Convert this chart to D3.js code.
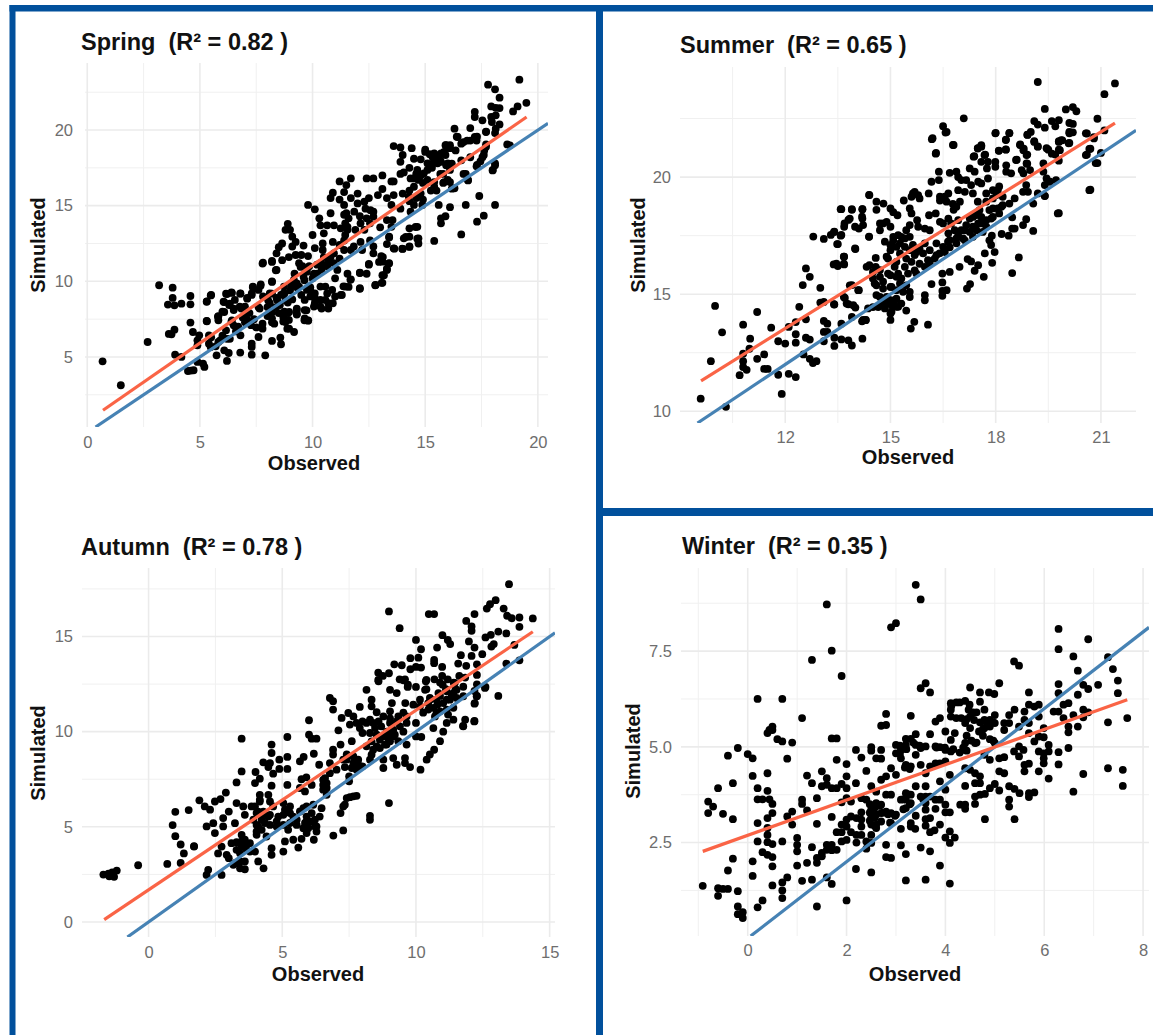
<!DOCTYPE html>
<html>
<head>
<meta charset="utf-8">
<style>
body { margin: 0; background: #fff; }
text { font-family: "Liberation Sans", Arial, sans-serif; }
</style>
<script src="https://cdn.jsdelivr.net/npm/d3@7"></script>
</head>
<body>
<script>
let width = 1153;
let height = 1035;

let springTitle = "Spring  (R² = 0.82 )";
let summerTitle = "Summer  (R² = 0.65 )";
let autumnTitle = "Autumn  (R² = 0.78 )";
let winterTitle = "Winter  (R² = 0.35 )";

let springXTicks = [0, 5, 10, 15, 20];
let springXMinor = [2.5, 7.5, 12.5, 17.5];
let springYTicks = [5, 10, 15, 20];
let springYMinor = [2.5, 7.5, 12.5, 17.5, 22.5];
let summerXTicks = [12, 15, 18, 21];
let summerXMinor = [10.5, 13.5, 16.5, 19.5];
let summerYTicks = [10, 15, 20];
let summerYMinor = [12.5, 17.5, 22.5];
let autumnXTicks = [0, 5, 10, 15];
let autumnXMinor = [-2.5, 2.5, 7.5, 12.5];
let autumnYTicks = [0, 5, 10, 15];
let autumnYMinor = [2.5, 7.5, 12.5, 17.5];
let winterXTicks = [0, 2, 4, 6, 8];
let winterXMinor = [-1, 1, 3, 5, 7];
let winterYTicks = [2.5, 5, 7.5];
let winterYMinor = [1.25, 3.75, 6.25, 8.75];

// fitted lines, [observed, simulated] at both ends
let springFit = [[0.7, 1.48], [19.5, 20.86]];
let summerFit = [[9.6, 11.3], [21.4, 22.3]];
let autumnFit = [[-1.66, 0.12], [14.37, 15.25]];
let winterFit = [[-0.91, 2.27], [7.68, 6.23]];

let springPoints = [
[0.68,4.71],[1.49,3.13],[2.68,5.99],[3.19,9.74],[3.79,9.58],[3.79,8.9],[3.58,8.46],[3.87,8.41],[4.18,8.52],[4.58,9.03],[4.58,8.48],[3.74,6.5],[3.62,6.52],[3.87,6.8],[3.9,5.15],[4.18,5.0],[4.58,7.27],[4.69,6.65],[4.97,6.43],[4.89,6.1],[4.89,5.77],[5.31,7.36],[5.48,9.07],[5.31,8.68],[5.82,7.69],[5.82,7.42],[5.4,6.43],[4.47,4.07],[4.72,4.12],[4.89,4.67],[5.14,4.56],[5.2,4.34],[4.6,4.1],
[6.16,9.18],[6.42,9.23],[6.79,9.18],[7.35,9.6],[7.69,9.7],[6.08,8.63],[6.33,8.52],[6.5,8.2],[6.08,7.97],[6.84,8.2],[7.1,8.85],[7,7.75],[7,7.3],[7.27,7.1],[7.6,8.3],[6.42,7.42],[6.16,6.76],[6.5,7.09],[6.33,6.2],[5.9,6.1],[6.8,6.43],[7.78,7.2],[7.78,6.87],[7.6,6.32],[8.2,6.06],[8.57,6.28],[8.6,5.84],[7.3,5.88],[7.3,5.66],[6.79,5.29],[7.3,5.15],[7.9,5.11],[6.28,5.26],[6.2,4.74],[5.74,5.11],[6.08,5.44],[5.48,5.66],[5.4,5.88],[5.82,5.99],[8.2,7.3],[8.2,7.97],[8.37,8.3],[8.7,7.64],[8.8,7.31],[8.96,6.87],[9.18,6.65],[8.88,6.87],[8.96,7.97],[9.3,7.86],[9.3,8.2],[9.64,7.42],[9.73,8.08],[9.81,7.42],[8.03,8.74],[8.2,9.18],[8.2,9.96],[7.78,11.17],[8.2,11.28],[8.37,10.73],
[5.5,9.1],[5.3,8.65],[5.3,7.38],[5.8,7.66],[6.4,7.33],[6.4,9.27],[6.2,9.16],[6.05,8.65],[6.3,8.43],[6.5,8.1],[6,8],[7,8.33],[7.1,7.45],[7.65,8.2],[7.8,9],[8.1,8.55],[8.2,7.55],[8.3,7.2],[8.75,8],[8.9,7.9],[9.3,8.1],[9.3,7.8],[9.65,8.1],[9.65,7.55],[9.8,7.4],[8.95,7.45],[8.7,7.35],[8.55,8.43],[6.8,9.2],[7.1,8.9],[7.3,9.1],[7.35,9.65],[7.7,9.8],
[10.35,9.65],[10.1,9.2],[9.75,9.43],[9.65,8.77],[10.1,8.55],[10.4,8.2],[10.7,8.2],[10.9,8.55],[11,9],[10.65,9.2],[11.3,9.1],[10.35,8.77],[9.3,9.87],[9.05,9.65],[8.75,9.2],[8.2,10],[8.7,9.18],[9,9.4],[9.3,9.6],[8.8,8.74],[9.64,10.07],[10.07,10.5],[10.4,11.17],[9.2,10.5],[9.73,10.73],[9.47,10.95],[9.05,9.85],
[9.8,15.05],[10.1,14.76],[10.8,14.5],[10.3,14.16],[10.35,13.7],[10.65,13.7],[10.95,13.7],[11.25,13.5],[11.5,14.5],[11.6,14.16],[11.45,13.83],[12.1,14.3],[12.4,14.16],[12.7,14.6],[12.55,13.83],[13.3,14.05],[13.55,14.05],[13.5,13.6],[13,13.57],[12.3,13.4],[11.9,13.4],[11.55,13.4],[11.45,13.06],[10.5,13.17],[10,13.06],[8.9,13.8],[9,13.4],[8.8,13.4],[9.1,12.95],[9.25,12.6],[8.65,12.5],[8.5,12.25],[9.1,12.3],[9.6,12.36],[8.4,11.85],[8.65,11.4],[8.95,11.6],[9.25,11.74],[9.5,11.74],[9.8,11.67],[10.1,12.2],[10.45,12.5],[10.9,12.6],[11.2,12.4],[11.4,12.7],[11.7,12.07],[10.45,12.07],[10.8,11.6],[11.2,11.5],[7.8,11.23],[8.2,11.35],[8.4,10.75],[9.4,11.2],[9.55,11],[9.85,11],[10.2,11.1],[10.7,11.3],[9.75,10.64],[10.05,10.4],[10.4,10.75],[11.1,10.75],[11,10.2],[11.55,10.5],[11.7,10.13],[12.1,10.57],[12.4,10.5],[12.5,11.15],[12.7,11.85],[13.05,11.67],[13.1,11.3],[13.4,11.2],[13.3,10.75],[13.1,10.4],[13.1,9.9],[12.8,9.76],[12.1,9.54],[11.45,9.65],[11.25,9.1],[13.4,12.95],[13.3,12.46],[13.6,12.18],[14,12.14],[14.3,12.3],[14.7,12.5],[14.7,12.84],[14.3,12.95],[14.05,12.84],[14.3,13.5],[14.65,13.6],[12.7,12.3],[12.55,12.7],[12.2,12.07],
[13.1,17],[12.7,16.8],[12.4,16.8],[13.5,16.6],[13.6,16.6],[11.7,16.8],[11.2,16.6],[11.5,16.36],[10.9,15.86],[10.8,15.5],[11.4,15.9],[11.2,15.4],[11.4,15.05],[12,15.8],[11.7,15.5],[12,15.15],[12.3,15.26],[12.5,15.5],[13.1,16.1],[12.9,15.7],[13.6,15.7],[13.3,15.5],[13.5,15.05],
[13.6,18.94],[13.9,18.85],[14.4,18.8],[14,18.35],[13.9,17.9],[14.5,18.1],[14.8,18.06],[14.3,17.5],[15,18.7],[15.2,18.4],[15.4,18.1],[15.7,17.9],[15.9,19],[16.1,18.8],[16.4,19.56],[16.7,19.2],[17,19.3],[17.3,19.56],[17.7,19.9],[18.1,19.8],[17.7,18.9],[17.6,18.35],[17.3,17.7],[18,17.36],[18.1,17.8],[16.8,17.1],[16.9,16.7],[16.3,16.15],[16,16.7],[15.8,16.5],[15.3,17.5],[15.1,17.36],[14.8,17],[14.6,17.1],[14.35,16.8],[13.9,17.1],[14.05,17.2],[14.9,16.5],[14.5,16.25],[14.3,16],[14,15.8],[14.8,15.8],[14.6,15.5],[14.3,15.3],[13.9,14.8],[14.35,14.6],[14.9,15.4],[15.5,16],[15.4,16.25],[15.8,17.1],[16.1,17.36],
[15.6,15.05],[16.1,14.9],[16.8,15.05],[17.4,15.64],[18.1,15.05],[15.9,14.3],[15.7,14.16],[15.7,13.83],[17.3,13.94],[17.6,14.34],[15.4,12.67],[16.6,13.1],
[19.18,23.33],[17.79,23],[18.1,22.69],[18.3,22.14],[17.93,21.56],[18.13,21.47],[18.3,21.45],[19.1,21.56],[19.49,21.8],[18.9,21.23],[17.2,21.2],[17.2,20.86],[17.93,20.86],[18.13,20.97],[17.96,20.53],[18.3,20.37],[17.54,20.64],[17,20.13],[16.3,20.09],[17.7,19.87],[18.13,20.09],[16.44,19.54],[16.6,19.1],[16.86,19.3],[17.2,19.54],[17.28,19.3],[18.64,19.05],[18.76,18.99],[17.7,19.05],[17.62,18.65],[17.54,18.2],[17.45,17.93],[17.28,17.6],[18.1,17.67],[17.99,17.33],[16.1,19],[15.93,19],[16.35,18.65],[15.84,18.55],[15.6,18.33],[15.33,18.2],[15,18.55],[15.33,17.78],[15.67,18],[15.93,17.67],[16.18,17.78],[16.6,18],[17,18.2],[16.7,17.1],[16.9,16.67],[15.67,17.1],[15.84,16.56],[16.1,16.56],[16.18,16.12],[15.4,16.56],[15.25,16],[13.98,12.16],[14.3,12.27],[14.65,12.82],[14.57,13.59],[14.14,12.93],[13.63,12.16],[13.4,12.9],[12.78,9.74],[13.07,9.9],[13.17,10.4],[13.3,10.84],[13.38,11.17],[12.95,11.28],[13.12,11.6],[12.5,11.1],[12.1,9.5],[12.1,10.55],[11.68,10.1],[11.37,9.67],[11.6,9.63],
[15.4,18.45],[15.7,18.45],[15.55,17.8],[16,17.8],[15.9,18.35],[15.1,17.8],[14.65,17.36],[14.94,17.14],[15.1,16.7],[14.7,16.7],[14.5,16.8],[14.27,15.6],[14.5,15.05],[14.87,15.05],[11.4,14.4],[11.55,13.6],[12.35,14.8],[12.57,14.7],[11.85,14.6],[12.13,13.83],[12.7,14.27],[9.9,9.43],[10.1,8.88],[10.57,9.65],[10.87,9.43],[10.57,8.77],[10.7,8.55],[10.35,8.33],[10.06,8.33],[9.9,9],[9.17,10.1],[9.6,10.3],[10,10.2],[10.2,10.5],[10.65,11],[10.95,11.2],[9.4,9.65],[8.73,9.65],[8.6,9.1],[8.43,8.77],[8.1,9.2],[7.3,9.2],[7.6,9.43],[6.77,8.33],[6.55,8.77],[10.5,11.6],[10.95,11.85],[10.35,11.2],[11.4,12.07],[11.83,12.3],[12.13,12.6],[6.2,6.2],[6.6,6.7],[6.9,7.6],[7.2,7.9],[6.7,7],[5.5,6.3],[5.7,5.7],[6,6.4],[7.4,7.5],[7.5,6.95],[8,7.7],[8.5,7.9],[8.9,8.6],[8.4,8.9],[8,8.3],[9.1,8.8],[9.5,9.1],[9.9,9.6]
];

let summerPoints = [
[9.59,10.54],[10.31,10.19],[9.88,12.14],[10,14.5],[10.2,13.37],[10.8,13.7],[11,13.1],[11.2,14.24],[10.98,12.67],[10.8,12.46],[10.8,12.14],[10.8,11.89],[10.9,11.77],[10.7,11.54],[11.2,12.24],[11.4,12.43],[11.4,11.81],[11.5,11.81],[11.6,13.57],[11.8,12.99],[12,12.89],[11.8,11.56],[11.9,10.74],[12.1,11.6],[12.3,11.46],[12.1,13.6],[12.3,13.29],[12.3,12.93],[12.3,13.81],[12.59,13.93],[12.4,14.46],[12.59,13.14],[12.7,13.06],[12.52,12.43],[12.7,12.24],[12.79,12.06],[12.89,12.14],[12.5,15.39],[12.59,16.1],[12.7,15.74],[13,15.27],[12.8,17.46],[13.1,17.36],[13,14.64],[13.1,14.67],[13.4,14.56],[13.1,13.86],[13.2,13.74],[13.1,13.39],[13.2,13.39],[13.1,12.99],[13.4,13.14],[13.4,12.79],[13.6,13.07],[13.8,13.03],[13.9,12.81],[13.6,13.74],[14.2,13.1],[14.19,13.84],[14.29,13.89],[13.7,14.84],[13.8,14.57],[14,14.43],[13.9,14.03],[14.36,14.39],[13.3,17.53],[13.4,17.67],[13.6,17.53],[13.5,17.14],[13.6,18.63],[13.9,18.63],[14.2,18.63],[14,16.93],[13.38,16.27],[13.5,16.2],[13.68,16.6],[13.68,16.27],[13.9,15.39],[14.1,15.17],[14.39,19.24],[13.68,17.88],[13.8,18.17],[13.99,17.88],[14.19,18.31],[14.39,17.46],
[16.18,21.62],[16.57,21.9],[16.78,21.37],[16.29,21],[17.99,21.87],[18.39,21.87],[18.29,21.58],[18.91,21.8],[19.1,21.5],[19.2,21.3],[17.59,21.3],[17.49,21.22],[18.09,21.12],[18.29,21.18],[18.69,21.37],[18.79,21.15],[18.88,20.94],[17.37,20.87],[17.68,20.94],[17.59,20.65],[17.78,20.65],[17.99,20.65],[17.99,20.44],[17.75,20.37],[18.58,20.73],[18.3,20.5],[18.3,20.23],[18.44,20.16],[18.88,20.58],[18.74,20.3],[18.79,20.16],[18.98,20.3],[19.36,20.58],[19.45,21.23],[19.6,21],[19.83,21.15],[19.87,21.58],[20.1,21.87],[20.08,21.44],[19.8,21.5],[20.57,21.87],[20.8,21.65],[20.67,21.2],[20.57,20.94],[20.85,20.6],[19.36,20.23],[19.45,19.94],[19.55,19.8],[19.72,19.87],[19.4,19.66],[19.2,19.3],[19.4,19.19],[19.07,18.87],[19.77,18.45],[20.67,19.44],[18.87,19.66],[18.78,19.37],[18.92,19.37],[18.87,18.2],[18.78,17.95],[18.54,17.8],[18.47,17.8],[19.07,17.7],[18.47,18.28],[18.37,17.5],[18.17,17.57],[18.66,16.57],[18.47,15.9],[17.66,15.74],[17.9,16.34],[17.69,16.74],[17.97,16.8],[17.87,17.1],[17.82,17.3],[17.89,17.5],[17.5,16.24],[17.4,16],[17.27,15.43],[17.18,15.24],[16.97,16.17],[17.2,16.5],[17.3,16.4],[16.69,15.95],[16.48,15.88],[16.48,15.5],[16.6,15.17],[16.48,15.14],[16.48,14.93],[16.17,15.43],[15.98,14.96],[15.98,14.74],[15.55,15.1],[15.55,14.88],[15.68,13.82],[16.07,13.7],[15.58,13.53],[15,13.9],[14.22,13.9],[14.3,13.9],[15.45,14.3],[15.03,14.25],[14.9,14.6],[14.65,14.45],[14.5,14.45],[13.94,14.53],[13.75,14.6],[13.67,14.88],[13.39,14.57],[13.84,15.38],[14.08,15.17],[14.32,16.17],[14.4,16.24],[14.58,16.55],[14.58,16.17],[13.46,16.3],[13.67,16.3],[13.67,16.6],[13.99,16.95],[13.48,17.14],[13.58,17.5],[13.39,17.66],[14.39,17.45],[13.58,18.63],[13.9,18.6],[14.2,18.63],[14.4,19.23],[14.6,18.95],[14.8,18.87],[14.6,18.6],[15,18.66],[15.08,18.5],[15.2,18.37],[15.38,19],[15.69,19.37],[15.6,19.16],[15.83,19.09],[16.09,19.3],[15.55,18.66],[15.6,18.45],[15.76,18.16],[16.1,18.37],[16.29,18.45],[16.41,19.16],[16.41,19],[16.65,19.3],[16.6,18.95],[16.78,18.85],[16.93,19.44],[17.12,19.37],[16.98,18.95],[16.8,18.6],[16.17,19.8],[16.38,20.23],[16.38,19.87],[16.69,20.18],[16.88,20.23],[16.93,20],[17.02,19.87],[17.16,19.87],[17.26,20.37],[17.4,20.23],[17.5,19.8],[17.59,19.73],[17.78,19.94],[17.3,19.66],[17.35,19.3],[17.49,18.95],[17.73,19.3],[17.92,19.44],[18.1,19.6],[18.02,19.23],[18.2,19.16],[18.54,19.09],[18.39,18.87],[18.16,18.73],[17.92,18.66],[13.69,18.02],[13.84,18.23],[14.2,18.23],[14.22,17.95],[14.1,17.8],[14.7,18.02],[14.89,18.09],[15,17.88],[14.7,17.73],[14.84,17.24],[15.08,17.3],[15.31,17.45],[15.55,17.95],[15.45,17.73],[15.79,17.88],[15.98,17.8],[16.12,17.73],[16.41,18.09],[16.65,18.23],[16.5,18.02],[16.65,17.6],[16.93,17.6],[17.12,17.73],[17.35,17.88],[17.59,18.3],[17.87,18.23],[18.1,18.45],[17.73,17.88],[17.5,18.02],[17.12,17.3],[17.35,17.45],[17.63,17.66],[16.88,17.17],[16.69,17],[16.55,16.8],[16.31,17.17],[16.12,16.88],[15.93,16.74],[15.74,16.8],[15.55,16.88],[15.27,17.17],[15,16.88],[14.89,16.6],[15.45,16.52],[15.17,16.38],[15.6,16.38],[15.83,16.3],[16.07,16.45],[16.26,16.52],[15.74,15.88],[15.5,15.88],[15.22,15.88],[15,15.81],[14.7,15.74],[14.5,15.67],[14.6,15.38],[14.79,15.24],[15.03,15.31],[15.27,15.46],[15.45,15.38],[14.89,14.88],[15.12,14.74],[15.31,14.6],[14.6,14.96],[14.79,14.6],[15.17,14.46],
[19.2,24.06],[21.4,24],[21.1,23.54],[19.4,22.91],[20,22.89],[20.2,22.99],[20.3,22.81],[17.09,22.51],[16.5,22.17],[16.6,21.93],[16.2,21.66],[16.8,21.37],[16.3,21.03],[19.1,22.39],[19.2,22.24],[19.4,22.11],[19.6,22.39],[19.8,22.43],[19.7,22.17],[20.1,22.31],[20.2,22.27],[20.9,22.49],[20.1,21.93],[20.2,21.91],[20.6,21.86],[20.8,21.7],[21.1,21.99],[21,21.03],[20.9,20.6],[20.7,19.46],[20.6,20.96],[20.7,21.21],[19.8,18.46],[19.4,19.2],[19.8,21.53],[19.9,21.57],[20.1,21.46],[19.5,21.17],[19.7,20.96],[19.8,21.17],[19.8,20.7],[18,21.89],[18.39,21.89],[18.29,21.6],[18.09,21.13],[18.29,21.17],[18.9,21.81],[19,21.93],[19.1,21.53],[19.2,21.31],[18.7,21.39],[18.8,21.21],[18.9,20.96],[18.6,20.74],[18.9,20.57],[17.7,20.96],[17.59,21.36],[17.49,21.24],[17.39,20.89],
[15.08,17.45],[15.22,17.52],[15.41,17.38],[15.55,17.45],[15,17.1],[15.17,17.02],[15.41,17.02],[15.64,17.1],[14.93,16.52],[15.27,16.74],[15.69,16.67],[15.83,16.95],[15.98,17.17],[15.12,16.17],[15.41,16.17],[15.69,16.02],[15.98,16.17],[14.5,15.95],[14.7,16.03],[14.93,15.88],[15.17,15.74],[15.31,15.67],[14.55,15.46],[14.79,15.53],[15,15.31],[15.17,15.17],[15.36,15.1],[14.7,14.88],[15,14.74],[15.17,14.81],[14.84,14.39],[15.03,14.53],[14.7,14.53],[15.22,14.46],[15,14.17],[16.12,16.31],[16.31,16.67],[16.5,17.02],[16.69,17.31],[16.88,17.38],[17.07,17.38],[17.26,17.66],[17.45,17.73],[17.59,18.02],[17.73,18.16],[17.92,18.3],[17.35,18.3],[17.16,17.95],[17.02,17.73],[16.83,17.73],[16.64,17.24],[16.4,16.74],[17.82,18.59],[18.06,18.66],[18.2,18.8],[17.54,18.59],[17.45,18.38],[17.26,18.23],[17.73,18.95],[17.92,19.09],[18.06,19.44],[16.93,18.16],[16.73,18.02],[16.88,18.73],[16.55,19.16],[15.64,19.3],[15.79,19.23],[14.79,18.02]
];

let autumnPoints = [
[-1.69,2.49],[-1.5,2.54],[-1.36,2.61],[-1.19,2.7],[-1.47,2.4],[-1.29,2.37],[-0.39,2.98],[0.7,3.05],[1.2,3.1],[1.32,3.6],[1.2,4.07],[1.7,3.98],[1,4.51],[0.9,5.09],[1,5.79],[1.5,5.88],
[3.48,9.63],[4.6,9.32],[5.19,9.72],[6,10.6],[6,9.84],[6.1,9.63],[6.28,9.63],[6.78,11.77],[6.9,11.6],[6.9,11.16],[7.1,10.07],[7.22,10.72],[7.47,10.98],[7.66,10.8],[7.53,10.37],[7.9,11.3],[8.15,12.2],[8.34,11.68],[8.34,11.33],[8.53,11.02],[8.6,12.65],[9.1,11.5],[9.03,12.2],[9.28,12.03],[9.6,11.5],[9.53,11],[8,10.54],[8.28,10.63],[8.47,10.19],[7.9,10.19],[8,9.93],[8.28,9.93],[8.7,10.28],[9.03,10.46],[9.28,10.54],[9.65,10.46],[10,10.46],[9.53,10],[8.96,9.67],[8.65,9.58],[8.15,9.23],[8.53,9.23],[7.6,9.5],[7.18,9.32],[6.9,9.05],[6.9,8.8],[6.18,8.84],[6.78,8.35],[6.38,8.26],[5.8,8.67],[5.66,8.44],[5.19,8.67],[4.6,8.88],[4.89,8.53],[4.29,8.39],[4.54,8.35],[5.19,8.04],[4.66,7.79],[4.89,8.04],[4.48,8.14],[3.48,7.91],[4,7.88],[4.16,7.53],[3.98,7.3],[3.29,7.33],[2.89,6.8],[2.69,6.46],[2.48,6.33],[1.9,6.39],[2.1,6.07],[2.3,5.9],[1.7,3.96],[2.17,5.02],[2.42,5.19],[2.48,4.67],[2.79,5.46],[3,5.8],[3.29,6.25],[3.54,6.07],[3.6,5.63],[2.79,5.02],[3.23,5.19],[3.85,6.07],[4.16,6.68],[4.16,6.33],[4.48,6.68],[4.6,7.16],[5.19,7.2],[5.72,7.5],[5.9,7.6],[6.1,7.2],[5.66,7.04],[5.85,6.86],[5.29,6.07],[5.04,6.25],[4.54,6.33],[5.1,5.9],[4.29,5.8],[4.48,5.54],[4.79,5.28],[4.54,5.1],[4.04,5.72],[4.23,5.37],[4.1,5.02],[4.04,4.58],[4.41,4.49],[3.48,4.58],[3.6,4.32],[3.29,4.19],[3.48,3.96],[2.73,3.96],[2.6,3.6],[3,3.35],[3.17,3],[3.42,2.82],[3.6,2.77],[2.23,2.74],[2.17,2.47],[2.73,2.47],[4.1,3.18],[4.3,2.82],[3.98,3.7],[3.67,3.79],[4.6,3.88],[4.6,3.53],[5.04,3.7],[5.1,4.23],[5.41,4.32],[5.6,3.91],[5.72,4.37],[6.18,4.32],[6.28,4.75],[5.91,4.67],[6.28,5.02],[6.22,5.37],[6.4,5.54],[6.47,5.98],[5.79,5.98],[6.1,5.72],[5.91,5.28],[5.54,5.37],[5.79,4.93],[5.22,4.84],[5.41,5.54],[6.91,4.54],[7.28,4.81],[7.18,5.72],[7.28,6.07],[7.41,6.51],[7.53,6.56],[7.78,6.63],[7.66,6.6],[7.34,6.16],[8.28,5.58],[8.28,5.37],[8.99,6.25],[6.53,6.95],[6.66,7.04],[6.66,6.68],[6.53,7.47],[6.78,7.82],[7.03,8],[7.34,8.14],[7.66,8.35],[7.84,8.53],[7.5,7.39],[7.5,7.65],[7.78,8],[8,8.18],[7.28,8.53],[7.41,8.8],[8.28,8.53],[8.78,8.53],[8.78,8.09],[9.15,8.61],[9.28,8.26],[9.59,8.61],[9.59,8.35],[9.78,8.14],[10.17,8],[10.4,8.53],[10.52,8.8],[10.68,9.05],[10.9,9.5],[11.02,10],[11.15,10.46],[10.65,10.19],[11.4,10.63],[11.84,10.63],[11.77,10.28],[12.18,10.54],[11.2,10.9],[10.77,11],[10.27,11],[10.46,11.16],[10.8,11.42],[11.15,11.68],[11.52,11.77],[11.77,11.86],[12.2,11.5],[12.27,11.86],[12.58,12.3],[11.77,12.36],[11.45,12.56],[11,12.47],[10.34,12.2],[10.52,11.77],[10.15,11.33],[9.9,11.42],[10.15,11.68],[9.7,12.47],[10.37,12.65],[9.53,12.7],[9.03,10.7],[8.6,10.54],[8.9,10],[9.15,9.75],[8.9,9.32],[9.34,9.5],[9.65,9.32],[10,9.75],[10.2,9.72],
[13.48,17.75],[12.98,16.91],[12.77,16.7],[12.65,16.47],[13.28,16.47],[13.41,16.09],[13.58,15.96],[13.87,16],[14.37,15.95],[13.87,15.51],[8.99,16.32],[9.39,15.44],[10.48,16.18],[10.68,16.18],[12.19,16.18],[11.88,15.82],[12.08,15.53],[12.08,15.3],[13.08,15.26],[13.38,15.16],[12.6,14.95],[12.8,15.09],[10.99,15.07],[11.19,14.82],[11.28,14.6],[10,14.82],[10.19,14.33],[10.79,14.42],[11.98,14.74],[12.19,14.42],[12.91,14.6],[12.82,14.47],[13.68,14.56],[12.48,14.07],[11.68,14.02],[12.08,13.98],[9.79,13.86],[10.09,13.89],[10.68,13.77],[10.68,13.6],[13.87,13.75],[13.38,13.58],[9.19,13.54],[9.47,13.49],[9.79,13.28],[10,13.4],[10.19,13.37],[10.98,13.4],[11.58,13.58],[11.88,13.46],[12.28,13.54],[12.28,12.98],[8.99,13.07],[8.59,13.1],[8.59,12.72],[8.76,12.93],[9.39,12.75],[9.59,12.75],[9.69,12.35],[10,12.35],[10.39,12.72],[10.39,12.23],[12.28,12.49],[12.6,12.35],[13.08,11.88],[12.19,12.14],[12.28,11.88],[12.19,11.47],[12.19,10.56],[11.76,10.3],
[8.15,10.46],[8.4,10.46],[8.53,9.84],[8.78,9.75],[9.03,9.84],[8.34,9.49],[8.65,9.14],[8.84,9.32],[9.03,9.49],[9.21,9.84],[8.4,9.05],[8.34,8.79],[7.41,8.53],[7.66,8.7],[7.84,8.26],[7.6,8.09],[6.6,7.56],[6.66,7.3],[6.53,7.2],[4.16,6.42],[3.98,6.07],[4.1,5.8],[4.23,5.63],[3.92,5.37],[4.04,5.1],[4.23,4.84],[4.04,4.75],[4.35,5.2],[4.54,5.63],[4.66,6.07],[3.29,3.79],[3.42,3.61],[3.6,3.96],[3.23,3.09],[3.42,3.18],[3.6,3.18],[3.79,3.7],[3.1,4.14],[2.92,3.53],[3.48,4.23],[3.79,4.14],[5.91,5.54],[6.03,5.28],[5.85,5.2],[6.22,5.02],[5.97,4.93],[5.54,5.1],[5.29,5.2],[5.04,5.1],[4.79,5.02],[5.66,5.81],[5.91,6.07],[6.16,6.16],[5.29,5.72],[5.04,5.63],[4.85,5.54],[10.77,11.68],[11.02,11.5],[11.27,11.68],[11.4,12.03],[11.15,12.12],[10.84,12.03],[10.65,11.25],[10.9,11.07],[11.15,11.16],[11.4,11.25],[10.46,11.5],[11.52,12.2],[10.71,10.8],[9.65,10.8],[9.34,10.8],[9.03,11.07],[8.78,10.8],[9.15,10.1],[9.4,10.28],[7.78,10.46],[10.98,12.93],[11.19,12.75],[11.41,12.58],[10.9,12.58],[10.69,12.75],[11.12,12.23],[11.48,12.23],[11.34,11.88],[10.9,11.88],[10.55,11.7],[11.62,12.93],[11.84,12.84]
];

let winterPoints = [
[-0.91,1.37],[-0.6,1.31],[-0.6,1.11],[-0.5,1.29],[-0.4,1.29],[-0.2,1.23],[-0.2,0.83],[-0.2,0.63],[-0.1,0.68],[-0.1,0.53],[-0.4,1.77],[-0.3,2.08],[0.1,2.01],[0.1,1.63],[0.2,0.81],[0.3,0.99],[0.5,1.88],[0.5,1.38],[0.7,1.46],[0.7,1.25],[0.7,1.05],[0.8,1.59],[1,1.9],[1.1,1.5],[1.2,1.97],[1.3,1.53],[1.4,0.83],[1.6,1.59],[1.7,1.42],[2,0.99],[2.19,1.81],[2.5,1.72],[2.8,2.12],[2.9,2.1],[3.2,1.51],[3.6,1.53],[4.09,1.43],[3.89,1.9],[2.8,2.44],[3.1,2.43],[3.2,2.2],[3.5,2.37],[3.69,2.27],[4.09,2.49],[4.09,2.79],[4,2.63],[4.19,2.63],[3.89,2.97],[3.78,2.82],[3.69,2.77],[3.6,2.94],[3.69,3.14],[3.6,3.11],[3.3,2.92],[3.39,2.86],[3.3,3.01],[3.1,2.86],[2.9,3.01],
[-0.8,3.57],[-0.7,3.44],[-0.8,3.27],[-0.5,3.25],[-0.3,3.11],[-0.6,3.92],[-0.3,4.05],[-0.4,4.77],[-0.2,4.97],[0,4.81],[0.1,4.7],[0.1,4.24],[0.4,4.31],[0.2,3.92],[0.4,3.85],[0.2,3.63],[0.3,3.63],[0.44,3.63],[0.5,3.51],[0.5,3.27],[0.4,3.14],[0.2,3.01],[0.4,2.88],[0.4,2.7],[0.2,2.53],[0.4,2.51],[0.5,2.46],[0.7,2.53],[0.3,2.25],[0.4,2.18],[0.5,2.12],[0.8,3.18],[0.9,3.31],[0.9,2.97],[1,2.62],[1,2.44],[1,2.27],[1.1,3.62],[1.1,3.51],[1.2,3.34],[1.2,4.25],[1.3,4.05],[1.4,3.66],[1.4,2.99],[1.3,2.38],[1.4,2.1],[1.4,1.97],[1.5,2.14],[1.5,2.23],[1.6,2.44],[1.6,2.31],[1.7,2.3],[1.8,2.31],[1.7,2.44],[1.5,4.36],[1.6,4.18],[1.5,3.97],[1.6,4.01],[1.7,3.92],[1.8,3.92],[1.9,4.03],[2,3.92],[2,4.23],[2,4.55],[1.8,4.66],[1.7,5.22],[1.8,5.22],[0.8,4.69],[0.9,5.11],[0.7,5.14],[0.6,5.2],[0.4,5.36],[0.5,5.53],[0.5,5.44],[0.44,5.44],[0.2,6.25],[0.7,6.25],[1.1,5.75],[1.3,7.27],[1.6,8.72],[1.7,7.51],[1.9,6.85],[2.9,8.12],[3,8.23],[3.4,9.23],[3.5,8.85],[3.5,6.53],[3.6,6.66],[3.69,6.42],[2.8,5.86],[3.3,5.81],[2.7,5.55],[2.8,5.57],[3.2,5.21],[3.3,5.21],[3.4,5.33],[3.69,5.33],[4,5.4],[3.8,5.66],[3.89,5.75],
[2.19,4.92],[2.5,4.99],[2.5,4.9],[2.7,4.92],[2.3,4.72],[2.6,4.7],[2.7,4.69],[2.4,4.37],[2.19,4.05],[2.7,4.14],[2.8,4.23],[2.9,4.44],[3,4.27],[3.1,4.7],[3.2,4.53],[3.3,4.49],[3,5.05],[3.1,4.92],[3,4.83],[3.2,5.05],[3.4,5.05],[3.5,4.97],[3.6,5.01],[3.4,4.79],[3.5,4.53],[3.6,4.31],[3.8,5.01],[3.89,4.99],[4,4.92],[4.11,4.88],[3.8,4.57],[4,4.62],[3.89,4.57],[3.69,4.49],[4.09,4.27],[3.89,4.1],[4,3.88],[3.6,3.97],[3.4,3.97],[3.2,3.79],[3.3,3.75],[2.8,3.75],[2.9,3.75],[2.6,3.83],[2.5,3.97],[2.3,3.66],[2.4,3.62],[2.6,3.53],[2.7,3.49],[2.5,3.36],[2.6,3.23],[2.7,3.27],[2.8,3.31],[3,3.23],[2.9,3.27],[2.5,3.14],[2.6,2.97],[2.7,3.05],[2.5,2.97],[2.3,3.29],[2,3.66],[1.9,3.55],[2.09,3.57],[2.3,3.1],[1.7,3.17],[2,3.1],[2.09,3.18],[2.2,3.14],[1.9,2.97],[2,2.92],[1.8,2.77],[1.9,2.77],[2.09,2.77],[2.3,2.92],[2.2,2.7],[2.3,2.7],[2.5,2.7],[2.6,2.88],[1.9,2.53],[2,2.57],[2.2,2.5],[2.4,2.53],[2.5,2.49],[2.4,2.34],[3.2,3.62],[3.1,3.62],[3.3,3.53],[3.2,3.4],[3.4,3.2],[3.6,3.7],[3.5,3.7],[3.6,3.53],[3.69,3.7],[3.8,3.62],[3.6,3.36],[3.8,3.38],[4,3.49],[4,3.29],[4.09,3.29],[3.89,3.62],[4.3,3.49],[4.4,3.49],[4.4,3.38],[4.4,3.98],[4.6,3.51],[4.6,3.7],[4.7,3.75],[4.8,3.77],[4.8,3.11],[4.9,3.92],[5,4.03],[5.09,3.86],[5.09,4.36],[5.19,4.31],[5.29,3.97],[5.4,3.9],[5.5,3.79],[5.29,3.62],[5.29,3.44],[5.4,3.11],[5.69,3.79],[5.8,3.81],[5.69,3.69],[5.89,4.36],[6.09,4.17],[5.6,4.36],[5.6,4.53],[5.69,4.56],[5.99,4.57],[5.99,4.7],[6.29,4.54],[6.29,4.86],[6.49,4.97],[6.59,3.83],[6.79,4.29],[7.29,4.44],[7.59,4.4],[7.59,3.98],[7.68,5.75],[7.29,5.64],[6.68,5.53],[6.49,5.38],[6.49,5.53],[6.29,8.08],[6.29,7.55],[6.89,7.81],[6.59,7.36],[7.29,7.34],[6.68,6.99],[7.39,7.03],[7.49,6.73],[7.09,6.62],[6.79,6.62],[6.89,6.51],[6.68,6.36],[7.49,6.4],[6.29,6.64],[6.29,6.4],[5.39,7.23],[5.49,7.12],[5.09,6.66],[4.5,6.55],[5.69,6.42],[4.99,6.38],[4.88,6.42],[4.7,6.42],[4.7,6.18],[4.4,6.2],[4.11,6.14],[4.22,6.16],[4.49,6.1],[4.11,5.97],[4.11,5.79],[4.22,5.75],[4.32,5.75],[4.47,5.97],[4.5,5.79],[4.4,5.62],[4.5,5.49],[4.58,5.7],[4.79,5.97],[4.79,5.7],[4.9,5.7],[5,5.83],[4.79,5.49],[4.9,5.53],[5,5.62],[4.68,5.4],[5.19,5.62],[5.19,5.44],[5.29,5.83],[5.4,5.97],[5.29,5.62],[5.6,5.92],[5.69,6.1],[5.89,6.1],[5.8,6.05],[5.6,5.7],[5.49,5.53],[5.69,5.62],[5.89,5.79],[6.19,5.92],[6.29,5.92],[6.39,6.1],[6.49,6.14],[6.39,5.75],[6.59,5.83],[6.79,5.97],[6.89,5.9],[6.79,5.77],[5.99,5.49],[5.89,5.27],[5.99,5.25],[5.69,5.36],[5.8,5.14],[6.09,5.05],[6.09,4.88],[5.89,4.88],[5.99,4.83],[5.49,5.01],[5.58,4.92],[5.39,4.88],[5.49,4.75],[5.19,4.73],[5.09,4.7],[4.9,4.66],[4.79,4.79],[5,5.1],[4.6,5.1],[4.4,5.1],[4.4,4.92],[4.19,5.36],[4.11,5.18],[4.6,4.31],[4.6,4.05],[4.7,4.23],[4.7,4.05],[4.4,4.44],[4.5,4.4],
[2.47,3.5],[2.57,3.41],[2.67,3.46],[2.47,3.28],[2.57,3.15],[2.74,3.28],[2.84,3.24],[2.98,3.2],[2.88,3.02],[2.57,2.94],[2.47,3.07],[3.15,3.63],[3.25,3.76],[3.28,3.5],[3.15,3.37],[3.55,3.63],[4.43,5.29],[4.53,5.16],[4.63,5.11],[4.76,5.46],[4.83,5.64],[4.97,5.64],[4.7,5.64],[4.76,5.29],[4.9,5.2],[4.29,6.16],[4.12,6.07],[4.56,5.9],[4.43,5.72],[4.63,5.9],[4.97,5.16],[4.36,4.98],[4.29,4.85],[4.43,4.9],[4.16,4.94],[3.99,4.98],[3.82,4.98],[3.08,5.03],[3.21,4.94],[3.35,5.11],[3.48,5.03],[3.08,4.81],[3.18,4.46],[3.28,4.42]
];

// layout of the four panels, in page pixels
let panneaux = [
    { id: "spring", titre: springTitle, points: springPoints, fit: springFit,
      xTicks: springXTicks, xMinor: springXMinor, yTicks: springYTicks, yMinor: springYMinor,
      xDomain: [-0.1, 20.45], yDomain: [0.37, 24.43],
      box: { left: 85, right: 548, top: 63, bottom: 427 },
      titreX: 81, titreY: 50, xTitreX: 314, xTitreY: 470, yTitreX: 45, yTitreY: 245, xTickY: 448, yTickX: 73 },
    { id: "summer", titre: summerTitle, points: summerPoints, fit: summerFit,
      xTicks: summerXTicks, xMinor: summerXMinor, yTicks: summerYTicks, yMinor: summerYMinor,
      xDomain: [9.0, 22.0], yDomain: [9.5, 24.7],
      box: { left: 680, right: 1136, top: 67, bottom: 423 },
      titreX: 680, titreY: 53, xTitreX: 908, xTitreY: 464, yTitreX: 645, yTitreY: 245, xTickY: 443, yTickX: 671 },
    { id: "autumn", titre: autumnTitle, points: autumnPoints, fit: autumnFit,
      xTicks: autumnXTicks, xMinor: autumnXMinor, yTicks: autumnYTicks, yMinor: autumnYMinor,
      xDomain: [-2.49, 15.2], yDomain: [-0.79, 18.6],
      box: { left: 82, right: 555, top: 568, bottom: 937 },
      titreX: 81, titreY: 555, xTitreX: 318, xTitreY: 981, yTitreX: 45, yTitreY: 753, xTickY: 958, yTickX: 73 },
    { id: "winter", titre: winterTitle, points: winterPoints, fit: winterFit,
      xTicks: winterXTicks, xMinor: winterXMinor, yTicks: winterYTicks, yMinor: winterYMinor,
      xDomain: [-1.35, 8.12], yDomain: [0.06, 9.67], yFormat: ".1f",
      box: { left: 681, right: 1149, top: 568, bottom: 936 },
      titreX: 682, titreY: 554, xTitreX: 915, xTitreY: 981, yTitreX: 640, yTitreY: 751, xTickY: 956, yTickX: 672 }
];

let canevas = d3.select("body").append("svg")
    .attr("width", width)
    .attr("height", height)
    .style("display", "block");

canevas.append("rect")
    .attr("width", width)
    .attr("height", height)
    .attr("fill", "#fff");

function dessinePanneau(p) {
    let x = d3.scaleLinear().domain(p.xDomain).range([p.box.left, p.box.right]);
    let y = d3.scaleLinear().domain(p.yDomain).range([p.box.bottom, p.box.top]);
    let g = canevas.append("g").attr("class", p.id);

    g.append("clipPath").attr("id", "clip-" + p.id)
        .append("rect")
        .attr("x", p.box.left)
        .attr("y", p.box.top)
        .attr("width", p.box.right - p.box.left)
        .attr("height", p.box.bottom - p.box.top);

    // grid, minor lines first
    let grille = g.append("g").attr("class", "grid");
    grille.selectAll(".vmin").data(p.xMinor.filter(d => d >= p.xDomain[0])).enter().append("line")
        .attr("x1", d => x(d)).attr("x2", d => x(d))
        .attr("y1", p.box.top).attr("y2", p.box.bottom)
        .attr("stroke", "#f0f0f0").attr("stroke-width", 1);
    grille.selectAll(".hmin").data(p.yMinor.filter(d => d <= p.yDomain[1])).enter().append("line")
        .attr("y1", d => y(d)).attr("y2", d => y(d))
        .attr("x1", p.box.left).attr("x2", p.box.right)
        .attr("stroke", "#f0f0f0").attr("stroke-width", 1);
    grille.selectAll(".vmaj").data(p.xTicks).enter().append("line")
        .attr("x1", d => x(d)).attr("x2", d => x(d))
        .attr("y1", p.box.top).attr("y2", p.box.bottom)
        .attr("stroke", "#ebebeb").attr("stroke-width", 1.6);
    grille.selectAll(".hmaj").data(p.yTicks).enter().append("line")
        .attr("y1", d => y(d)).attr("y2", d => y(d))
        .attr("x1", p.box.left).attr("x2", p.box.right)
        .attr("stroke", "#ebebeb").attr("stroke-width", 1.6);

    // axes: labels only
    let axeX = g.append("g")
        .attr("transform", "translate(0," + (p.xTickY - 12) + ")")
        .call(d3.axisBottom(x).tickValues(p.xTicks).tickSize(0).tickPadding(0).tickFormat(d3.format("d")));
    let axeY = g.append("g")
        .attr("transform", "translate(" + p.yTickX + ",0)")
        .call(d3.axisLeft(y).tickValues(p.yTicks).tickSize(0).tickPadding(0)
            .tickFormat(p.yFormat ? d3.format(p.yFormat) : d3.format("d")));
    [axeX, axeY].forEach(function(a) {
        a.select(".domain").remove();
        a.selectAll("text")
            .style("font-family", '"Liberation Sans", Arial, sans-serif')
            .style("font-size", "16.5px")
            .attr("fill", "#6e6e6e");
    });

    g.append("g").selectAll("circle")
        .data(p.points)
        .enter()
        .append("circle")
        .attr("cx", d => x(d[0]))
        .attr("cy", d => y(d[1]))
        .attr("r", 3.9)
        .attr("fill", "#000");

    // 1:1 line
    let bas = Math.max(p.xDomain[0], p.yDomain[0]);
    let haut = Math.min(p.xDomain[1], p.yDomain[1]);
    let trait = d3.line().x(d => x(d[0])).y(d => y(d[1]));
    g.append("path")
        .attr("clip-path", "url(#clip-" + p.id + ")")
        .attr("d", trait([[bas, bas], [haut, haut]]))
        .attr("fill", "none")
        .attr("stroke", "#4682b4")
        .attr("stroke-width", 3.2);
    g.append("path")
        .attr("clip-path", "url(#clip-" + p.id + ")")
        .attr("d", trait(p.fit))
        .attr("fill", "none")
        .attr("stroke", "#fa6446")
        .attr("stroke-width", 3.2);

    g.append("text")
        .attr("x", p.titreX).attr("y", p.titreY)
        .attr("xml:space", "preserve")
        .style("white-space", "pre")
        .style("font-size", "23.5px")
        .style("font-weight", "bold")
        .attr("fill", "#111")
        .text(p.titre);
    g.append("text")
        .attr("x", p.xTitreX).attr("y", p.xTitreY)
        .style("text-anchor", "middle")
        .style("font-size", "20px")
        .style("font-weight", "bold")
        .attr("fill", "#111")
        .text("Observed");
    g.append("text")
        .attr("transform", "translate(" + p.yTitreX + "," + p.yTitreY + ") rotate(-90)")
        .style("text-anchor", "middle")
        .style("font-size", "20px")
        .style("font-weight", "bold")
        .attr("fill", "#111")
        .text("Simulated");
}

panneaux.forEach(dessinePanneau);

// blue frame around the panels
let cadres = [
    [9.5, 5, 1143.5, 6.5],
    [9.5, 5, 6, 1030],
    [596, 5, 7, 1030],
    [603, 508, 550, 8]
];
canevas.append("g").selectAll("rect")
    .data(cadres)
    .enter()
    .append("rect")
    .attr("x", d => d[0])
    .attr("y", d => d[1])
    .attr("width", d => d[2])
    .attr("height", d => d[3])
    .attr("fill", "#01509c");
</script>
</body>
</html>
